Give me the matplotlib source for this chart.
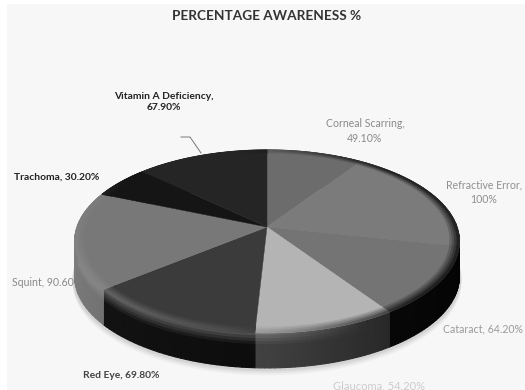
import numpy as np
import matplotlib

matplotlib.use("Agg")
import matplotlib.pyplot as plt
from matplotlib.collections import PolyCollection
from matplotlib.patches import Rectangle

plt.rcParams["font.family"] = ["Lato", "DejaVu Sans"]

categories = ["Corneal Scarring", "Refractive Error", "Cataract", "Glaucoma",
              "Red Eye", "Squint", "Trachoma", "Vitamin A Deficiency"]
awareness = [49.1, 100, 64.2, 54.2, 69.8, 90.6, 30.2, 67.9]
top_colors = ["#6c6c6c", "#7b7b7b", "#747474", "#b4b4b4",
              "#3b3b3b", "#787878", "#151515", "#252525"]
side_colors = ["#2a2a2a", "#1c1c1c", "#141414", "#6a6a6a",
               "#141414", "#7c7c7c", "#111111", "#222222"]

# perspective of the tilted disc, in pixels
CX, CY = 267, 227
RX, RY, TILT = 190, 89.2, 0.158
DEPTH = 35


def project(r, theta, drop=0.0):
    """Disc position (radius 0-1, clockwise angle from 12 o'clock) to pixels."""
    u = r * np.sin(theta)
    v = -r * np.cos(theta)
    w = 1 - TILT * v
    return CX + RX * u / w, CY + RY * v / w + drop


def mix(color, other, t):
    a = np.array(matplotlib.colors.to_rgb(color))
    b = np.array(matplotlib.colors.to_rgb(other))
    return tuple(a + (b - a) * np.clip(t, 0, 1))


fig = plt.figure(figsize=(5.25, 3.9), dpi=100)
ax = fig.add_axes([0, 0, 1, 1])
ax.set_xlim(0, 525)
ax.set_ylim(390, 0)
ax.axis("off")
ax.add_patch(Rectangle((7, 4), 518, 386, color="#f7f7f7", lw=0, zorder=0))

edges = np.concatenate([[0], np.cumsum(awareness)]) / np.sum(awareness) * 2 * np.pi
full = np.linspace(0, 2 * np.pi, 361)

# soft shadow under the disc
for drop, shade in zip([41, 39, 37], ["#eeeeee", "#e2e2e2", "#d4d4d4"]):
    x, y = project(1.01, full, drop)
    ax.fill(x, y, color=shade, lw=0, zorder=1)

# side wall: lit band at the top that fades down, darker towards the right
quads, shades = [], []
levels = np.linspace(0, DEPTH, 13)
for i, color in enumerate(side_colors):
    th = np.linspace(edges[i], edges[i + 1], 30)
    for a, b in zip(th[:-1], th[1:]):
        x0, y0 = project(1, a)
        x1, y1 = project(1, b)
        s = np.sin((a + b) / 2)
        base = mix(color, "#000000", 0.8 * (s + 1) / 2)
        glow = np.clip(0.45 - s, 0, 0.45)
        for d0, d1 in zip(levels[:-1], levels[1:]):
            quads.append([(x0, y0 + d0), (x1, y1 + d0), (x1, y1 + d1), (x0, y0 + d1)])
            shades.append(mix(base, "#a0a0a0", glow * max(0, 1 - d0 / 11)))
ax.add_collection(PolyCollection(quads, facecolors=shades, edgecolors=shades, linewidths=0.8, zorder=3))

# top faces, with a bevelled rim: light on the left, dark on the right
radii = np.linspace(0.94, 1.0, 6)
for i, color in enumerate(top_colors):
    th = np.linspace(edges[i], edges[i + 1], 60)
    x, y = project(1, th)
    ax.fill(np.r_[CX, x], np.r_[CY, y], color=color, lw=0.3, zorder=4)
    rims, rim_colors = [], []
    for a, b in zip(th[:-1], th[1:]):
        s = np.sin((a + b) / 2)
        front = np.clip(-np.cos((a + b) / 2) + 0.6, 0, 1)
        for r0, r1 in zip(radii[:-1], radii[1:]):
            t = (r0 - radii[0]) / (radii[-1] - radii[0])
            xa, ya = project(r0, a)
            xb, yb = project(r0, b)
            xc, yc = project(r1, b)
            xd, yd = project(r1, a)
            rims.append([(xa, ya), (xb, yb), (xc, yc), (xd, yd)])
            dark = mix(color, "#000000", t * np.clip(s + 0.2, 0, 0.9))
            rim_colors.append(mix(dark, "#999999", t * 0.5 * front * np.clip(0.3 - s, 0, 1)))
    ax.add_collection(PolyCollection(rims, facecolors=rim_colors, edgecolors=rim_colors,
                                     linewidths=0.6, zorder=5))

ax.text(267, 16, "PERCENTAGE AWARENESS %", ha="center", va="center", fontsize=9.8,
        fontweight="bold", color="#333333", zorder=7)

labels = [
    (365, 131, f"{categories[0]},\n{awareness[0]:.2f}%", "#8a8a8a", "normal", "center", 7.6),
    (484, 192, f"{categories[1]},\n{awareness[1]:.0f}%", "#8f8f8f", "normal", "center", 7.6),
    (483, 329, f"{categories[2]}, {awareness[2]:.2f}%", "#9a9a9a", "normal", "center", 7.6),
    (379, 386, f"{categories[3]}, {awareness[3]:.2f}%", "#cccccc", "normal", "center", 8.0),
    (121, 376, f"{categories[4]}, {awareness[4]:.2f}%", "#444444", "bold", "center", 7.4),
    (12, 283, f"{categories[5]}, {awareness[5]:.2f}%", "#8a8a8a", "normal", "left", 7.6),
    (14, 177, f"{categories[6]}, {awareness[6]:.2f}%", "#222222", "bold", "left", 7.4),
    (164, 102, f"{categories[7]},\n{awareness[7]:.2f}%", "#222222", "bold", "center", 7.4),
]
for x, y, text, color, weight, ha, size in labels:
    ax.text(x, y, text, ha=ha, va="center", fontsize=size, color=color, fontweight=weight,
            linespacing=1.35, zorder=2)

ax.plot([181, 190, 201], [137, 137, 153], color="#777777", lw=0.7, zorder=2)

fig.savefig("out.png", dpi=100)
plt.close(fig)
